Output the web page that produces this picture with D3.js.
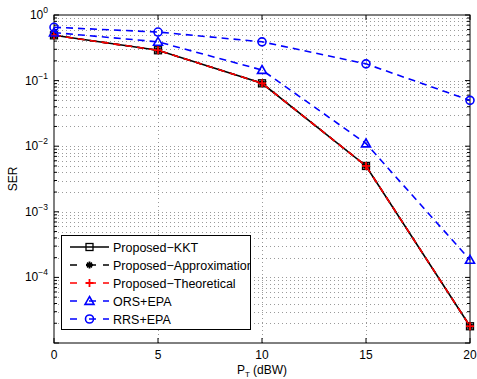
<!DOCTYPE html>
<html>
<head>
<meta charset="utf-8">
<script src="https://cdn.jsdelivr.net/npm/d3@7"></script>
<style>
  body { margin: 0; background: #fff; }
  text { font-family: "Liberation Sans", Arial, sans-serif; }
</style>
</head>
<body>
<div class="chart"></div>
<script>
const width = 477;
const height = 379;
const margin = {top: 15, right: 7, bottom: 36, left: 54};

// data
const power = [0, 5, 10, 15, 20];
const serKKT = [0.49, 0.29, 0.091, 0.0050, 1.8e-5];
const serApprox = [0.49, 0.29, 0.091, 0.0050, 1.8e-5];
const serTheory = [0.49, 0.29, 0.091, 0.0050, 1.8e-5];
const serORS = [0.54, 0.39, 0.145, 0.011, 1.85e-4];
const serRRS = [0.65, 0.55, 0.39, 0.18, 0.05];
const xTicks = [0, 5, 10, 15, 20];
const yDecades = [0, -1, -2, -3, -4];

const series = [
  {name: 'Proposed\u2212KKT', values: serKKT, color: '#000', dash: null, marker: 'square'},
  {name: 'Proposed\u2212Approximation', values: serApprox, color: '#000', dash: '7,5', marker: 'star'},
  {name: 'Proposed\u2212Theoretical', values: serTheory, color: '#f00', dash: '7,5', marker: 'plus'},
  {name: 'ORS+EPA', values: serORS, color: '#00f', dash: '7,5', marker: 'triangle'},
  {name: 'RRS+EPA', values: serRRS, color: '#00f', dash: '7,5', marker: 'circle'}
];

const svg = d3.select('.chart').append('svg')
  .attr('width', width).attr('height', height);

const x = d3.scaleLinear().domain([0, 20]).range([margin.left, width - margin.right]);
const y = d3.scaleLog().domain([1e-5, 1]).range([height - margin.bottom, margin.top]);

const x0 = x.range()[0], x1 = x.range()[1];
const y0 = y.range()[0], y1 = y.range()[1];

// minor log values
const minorVals = [];
for (let e = -5; e < 0; e++) for (let m = 2; m <= 9; m++) minorVals.push(m * Math.pow(10, e));
const majorVals = d3.range(-5, 1).map(e => Math.pow(10, e));

const grid = svg.append('g').attr('stroke', '#555').attr('stroke-width', 0.6)
  .attr('stroke-dasharray', '1,3');
grid.selectAll('.hg').data(minorVals.concat(majorVals.slice(1, -1))).enter().append('line')
  .attr('x1', x0).attr('x2', x1)
  .attr('y1', d => Math.round(y(d)) + 0.5).attr('y2', d => Math.round(y(d)) + 0.5);
grid.selectAll('.vg').data(xTicks.slice(1, -1)).enter().append('line')
  .attr('x1', d => Math.round(x(d)) + 0.5).attr('x2', d => Math.round(x(d)) + 0.5)
  .attr('y1', y0).attr('y2', y1);

// frame
svg.append('rect').attr('x', x0).attr('y', y1).attr('width', x1 - x0).attr('height', y0 - y1)
  .attr('fill', 'none').attr('stroke', '#000').attr('stroke-width', 1);

// ticks (inside, all four sides)
const ticks = svg.append('g').attr('stroke', '#000').attr('stroke-width', 1);
xTicks.forEach(t => {
  ticks.append('line').attr('x1', x(t)).attr('x2', x(t)).attr('y1', y0).attr('y2', y0 - 5);
  ticks.append('line').attr('x1', x(t)).attr('x2', x(t)).attr('y1', y1).attr('y2', y1 + 5);
});
majorVals.forEach(v => {
  ticks.append('line').attr('x1', x0).attr('x2', x0 + 5).attr('y1', y(v)).attr('y2', y(v));
  ticks.append('line').attr('x1', x1).attr('x2', x1 - 5).attr('y1', y(v)).attr('y2', y(v));
});
minorVals.forEach(v => {
  ticks.append('line').attr('x1', x0).attr('x2', x0 + 3).attr('y1', y(v)).attr('y2', y(v));
  ticks.append('line').attr('x1', x1).attr('x2', x1 - 3).attr('y1', y(v)).attr('y2', y(v));
});

// tick labels
svg.append('g').selectAll('text').data(xTicks).enter().append('text')
  .attr('x', d => x(d)).attr('y', y0 + 16)
  .attr('text-anchor', 'middle').attr('font-size', 12).text(d => d);

const yl = svg.append('g').selectAll('text').data(yDecades).enter().append('text')
  .attr('x', x0 - 6).attr('y', d => y(Math.pow(10, d)) + 4)
  .attr('text-anchor', 'end').attr('font-size', 12);
yl.append('tspan').text('10');
yl.append('tspan').attr('dy', -6).attr('font-size', 8.5).text(d => d === 0 ? '0' : '\u2212' + (-d));

// axis labels
const xl = svg.append('text').attr('x', 262).attr('y', 374).attr('text-anchor', 'middle').attr('font-size', 12);
xl.append('tspan').text('P');
xl.append('tspan').attr('dy', 3).attr('font-size', 8).text('T');
xl.append('tspan').attr('dy', -3).text(' (dBW)');

svg.append('text').attr('transform', `translate(17,${(y0 + y1) / 2}) rotate(-90)`)
  .attr('text-anchor', 'middle').attr('font-size', 12).text('SER');

// markers
function drawMarker(g, type, cx, cy, color) {
  if (type === 'square') {
    g.append('rect').attr('x', cx - 3.5).attr('y', cy - 3.5).attr('width', 7).attr('height', 7)
      .attr('fill', 'none').attr('stroke', color).attr('stroke-width', 1.3);
  } else if (type === 'star') {
    const s = 3.5;
    [[0, -s, 0, s], [-s, 0, s, 0], [-s * 0.7, -s * 0.7, s * 0.7, s * 0.7], [-s * 0.7, s * 0.7, s * 0.7, -s * 0.7]].forEach(l => {
      g.append('line').attr('x1', cx + l[0]).attr('y1', cy + l[1]).attr('x2', cx + l[2]).attr('y2', cy + l[3])
        .attr('stroke', color).attr('stroke-width', 1.8);
    });
  } else if (type === 'plus') {
    const s = 4;
    g.append('line').attr('x1', cx - s).attr('x2', cx + s).attr('y1', cy).attr('y2', cy).attr('stroke', color).attr('stroke-width', 1.8);
    g.append('line').attr('x1', cx).attr('x2', cx).attr('y1', cy - s).attr('y2', cy + s).attr('stroke', color).attr('stroke-width', 1.8);
  } else if (type === 'triangle') {
    const s = 4.5;
    g.append('path').attr('d', `M${cx},${cy - s}L${cx + s},${cy + s * 0.75}L${cx - s},${cy + s * 0.75}Z`)
      .attr('fill', 'none').attr('stroke', color).attr('stroke-width', 1.6);
  } else if (type === 'circle') {
    g.append('circle').attr('cx', cx).attr('cy', cy).attr('r', 4)
      .attr('fill', 'none').attr('stroke', color).attr('stroke-width', 1.6);
  }
}

const line = d3.line().x((d, i) => x(power[i])).y(d => y(d));
const plot = svg.append('g');
series.forEach(s => {
  plot.append('path').datum(s.values).attr('d', line)
    .attr('fill', 'none').attr('stroke', s.color).attr('stroke-width', 1.6)
    .attr('stroke-dasharray', s.dash);
  s.values.forEach((v, i) => drawMarker(plot, s.marker, x(power[i]), y(v), s.color));
});

// legend (text clipped by the box, as in the original)
svg.append('clipPath').attr('id', 'lgclip').append('rect')
  .attr('x', 61.5).attr('y', 235.5).attr('width', 189).attr('height', 94);
const lg = svg.append('g');
lg.append('rect').attr('x', 61.5).attr('y', 235.5).attr('width', 189).attr('height', 94)
  .attr('fill', '#fff').attr('stroke', 'none');
const lgItems = lg.append('g').attr('clip-path', 'url(#lgclip)');
series.forEach((s, i) => {
  const ly = 247 + i * 18;
  lgItems.append('line').attr('x1', 70).attr('x2', 109).attr('y1', ly).attr('y2', ly)
    .attr('stroke', s.color).attr('stroke-width', 1.6)
    .attr('stroke-dasharray', s.dash ? '7,12,7' : null);
  drawMarker(lgItems, s.marker, 89.5, ly, s.color);
  lgItems.append('text').attr('x', 113).attr('y', ly + 4.5).attr('font-size', 12.5).text(s.name);
});
lg.append('rect').attr('x', 61.5).attr('y', 235.5).attr('width', 189).attr('height', 94)
  .attr('fill', 'none').attr('stroke', '#000').attr('stroke-width', 1);
</script>
</body>
</html>
